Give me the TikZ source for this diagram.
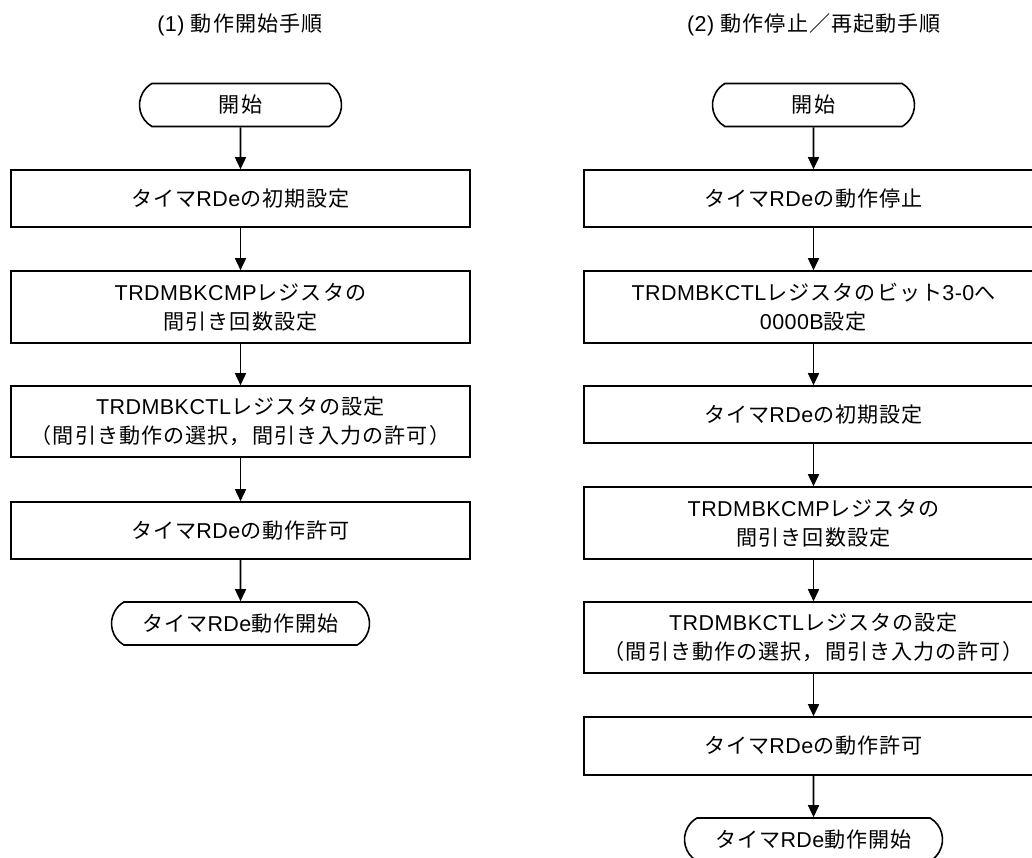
\documentclass[tikz,border=0pt]{standalone}
\usepackage{fontspec}
\setmainfont[LetterSpace=2]{Liberation Sans}
\newfontfamily\jp[Scale=0.98,LetterSpace=5]{Noto Sans CJK JP}
\newcommand{\J}[1]{{\jp #1}}
\usetikzlibrary{arrows.meta,shapes.misc}
\tikzset{
  txt/.style={font=\fontsize{21.5}{29}\selectfont, align=center},
  procbox/.style={txt, draw, line width=1.6pt, minimum width=459pt, inner sep=0pt},
  termbox/.style={txt, draw, line width=1.6pt, rounded rectangle, rounded rectangle arc length=120, inner sep=0pt, minimum height=43pt},
  arr/.style={line width=1.6pt, -{Triangle[width=11pt,length=12pt]}},
  titletxt/.style={txt, inner sep=0pt}
}
\begin{document}
\begin{tikzpicture}[x=1pt,y=-1pt]
\useasboundingbox (0,0) rectangle (1032,857);
\clip (0,0) rectangle (1032,857);
\fill[white] (0,0) rectangle (1032,857);
% left column
\node[titletxt] (t1) at (240,25) {(1) \J{動作開始手順}};
\node[termbox, minimum width=202pt] (ls) at (240.5,105) {\J{開始}};
\node[procbox, minimum height=57pt] (l1) at (240.5,198.5) {\J{タイマ}RDe\J{の初期設定}};
\node[procbox, minimum height=72pt] (l2) at (240.5,307) {TRDMBKCMP\J{レジスタの}\\\J{間引き回数設定}};
\node[procbox, minimum height=71pt] (l3) at (240.5,421.5) {TRDMBKCTL\J{レジスタの設定}\\\J{（間引き動作の選択，間引き入力の許可）}};
\node[procbox, minimum height=57pt] (l4) at (240.5,530.5) {\J{タイマ}RDe\J{の動作許可}};
\node[termbox, minimum width=258pt] (le) at (240.5,623.5) {\J{タイマ}RDe\J{動作開始}};
\draw[arr] (ls) -- (l1);
\draw[arr] (l1) -- (l2);
\draw[arr] (l2) -- (l3);
\draw[arr] (l3) -- (l4);
\draw[arr] (l4) -- (le);
% right column
\node[titletxt] (t2) at (814,25) {(2) \J{動作停止／再起動手順}};
\node[termbox, minimum width=202pt] (rs) at (813.5,105) {\J{開始}};
\node[procbox, minimum height=57pt] (r1) at (813.5,198.5) {\J{タイマ}RDe\J{の動作停止}};
\node[procbox, minimum height=72pt] (r2) at (813.5,307) {TRDMBKCTL\J{レジスタのビット}3-0\J{へ}\\0000B\J{設定}};
\node[procbox, minimum height=57pt] (r3) at (813.5,414.5) {\J{タイマ}RDe\J{の初期設定}};
\node[procbox, minimum height=72pt] (r4) at (813.5,523) {TRDMBKCMP\J{レジスタの}\\\J{間引き回数設定}};
\node[procbox, minimum height=71pt] (r5) at (813.5,637.5) {TRDMBKCTL\J{レジスタの設定}\\\J{（間引き動作の選択，間引き入力の許可）}};
\node[procbox, minimum height=58pt] (r6) at (813.5,746) {\J{タイマ}RDe\J{の動作許可}};
\node[termbox, minimum width=258pt] (re) at (813.5,839.5) {\J{タイマ}RDe\J{動作開始}};
\draw[arr] (rs) -- (r1);
\draw[arr] (r1) -- (r2);
\draw[arr] (r2) -- (r3);
\draw[arr] (r3) -- (r4);
\draw[arr] (r4) -- (r5);
\draw[arr] (r5) -- (r6);
\draw[arr] (r6) -- (re);
\end{tikzpicture}
\end{document}
